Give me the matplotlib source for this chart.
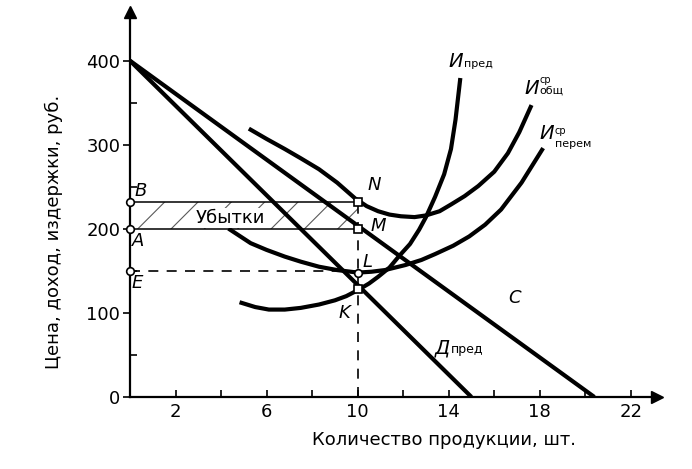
import numpy as np
import matplotlib.pyplot as plt

plt.rcParams['font.family'] = ['DejaVu Sans']
plt.rcParams['hatch.linewidth'] = 0.8

# price line C and marginal revenue line Д_пред
c_q = [0, 20.4]
c_p = [400, 0]
mr_q = [0, 15.0]
mr_p = [400, 0]

# cost curves
mc_q = [4.9, 5.5, 6.1, 6.8, 7.5, 8.3, 9.0, 9.5, 10.0, 10.5, 10.9, 11.4, 11.8, 12.3, 12.7, 13.0, 13.4, 13.8, 14.1, 14.3, 14.5]
mc_p = [112, 107, 104, 104, 106, 110, 115, 120, 127, 135, 143, 154, 167, 182, 199, 214, 238, 265, 295, 330, 377]
atc_q = [5.3, 6.0, 6.8, 7.5, 8.3, 9.1, 9.9, 10.4, 10.9, 11.4, 11.9, 12.5, 13.0, 13.6, 14.1, 14.7, 15.3, 16.0, 16.6, 17.1, 17.6]
atc_p = [318, 307, 295, 284, 271, 255, 236, 227, 221, 217, 215, 214, 216, 221, 229, 239, 251, 268, 290, 315, 345]
avc_q = [4.4, 5.3, 6.0, 6.8, 7.5, 8.3, 9.1, 10.0, 10.6, 11.2, 12.1, 12.8, 13.4, 14.2, 14.9, 15.6, 16.3, 17.2, 18.1]
avc_p = [199, 183, 175, 167, 161, 155, 151, 148, 149, 151, 157, 163, 170, 180, 191, 205, 223, 255, 294]

# equilibrium quantity and price levels
q_star = 10
p_b = 232
p_a = 200
p_e = 150
p_k = 128

fig = plt.figure(figsize=(6.92, 4.69), dpi=100)
ax = fig.add_axes([130/692, 1 - 397/469, 527/692, 385/469])
ax.set_xlim(0, 23.15)
ax.set_ylim(0, 458)

# losses rectangle
ax.fill_between([0, q_star], p_a, p_b, facecolor='none', edgecolor='0.35', hatch='/', linewidth=0)
ax.plot([0, q_star], [p_b, p_b], color='k', lw=1.1)
ax.plot([0, q_star], [p_a, p_a], color='k', lw=1.1)
ax.plot([0, q_star], [p_e, p_e], color='k', lw=1.2, dashes=(6, 5))
ax.plot([q_star, q_star], [0, p_b], color='k', lw=1.2, dashes=(6, 5))

lw = 3.0
ax.plot(c_q, c_p, color='k', lw=lw, solid_capstyle='butt')
ax.plot(mr_q, mr_p, color='k', lw=lw, solid_capstyle='butt')
ax.plot(mc_q, mc_p, color='k', lw=lw, solid_joinstyle='round')
ax.plot(atc_q, atc_p, color='k', lw=lw, solid_joinstyle='round')
ax.plot(avc_q, avc_p, color='k', lw=lw, solid_joinstyle='round')

# marked points
mk = dict(color='k', mfc='white', mec='k', mew=1.2, ms=5.5, clip_on=False, zorder=5)
ax.plot([0, 0, 0], [p_b, p_a, p_e], 'o', **mk)
ax.plot([q_star], [p_e - 2], 'o', **mk)
ax.plot([q_star, q_star, q_star], [p_b, p_a, p_k], 's', **mk)

it = dict(fontsize=13, style='italic', ha='center', va='center')
ax.text(0.45, 245, 'B', **it)
ax.text(0.35, 186, 'A', **it)
ax.text(0.3, 136, 'E', **it)
ax.text(10.75, 252, 'N', **it)
ax.text(10.9, 204, 'M', **it)
ax.text(10.45, 161, 'L', **it)
ax.text(9.4, 100, 'K', **it)
ax.text(16.9, 118, 'C', **it)
ax.text(4.4, 213, 'Убытки', fontsize=13, ha='center', va='center',
        bbox=dict(facecolor='white', edgecolor='none', pad=0.5))

# curve labels
ax.text(14.0, 392, 'И', fontsize=14, style='italic', va='baseline')
ax.text(14.65, 392, 'пред', fontsize=8, va='baseline')
ax.text(17.35, 361, 'И', fontsize=14, style='italic', va='baseline')
ax.text(18.0, 361, 'общ', fontsize=8, va='baseline')
ax.text(18.0, 374, 'ср', fontsize=7, va='baseline')
ax.text(18.0, 307, 'И', fontsize=14, style='italic', va='baseline')
ax.text(18.65, 297, 'перем', fontsize=8, va='baseline')
ax.text(18.65, 313, 'ср', fontsize=7, va='baseline')
ax.text(13.4, 52, 'Д', fontsize=14, style='italic', va='baseline')
ax.text(14.1, 52, 'пред', fontsize=9, va='baseline')

# axes
for s in ['top', 'right']:
    ax.spines[s].set_visible(False)
for s in ['left', 'bottom']:
    ax.spines[s].set_linewidth(1.6)
ax.plot(1, 0, '>k', ms=9, transform=ax.transAxes, clip_on=False)
ax.plot(0, 1, '^k', ms=9, transform=ax.transAxes, clip_on=False)

ax.set_xticks([2, 6, 10, 14, 18, 22])
ax.set_xticks([4, 8, 12, 16, 20], minor=True)
ax.set_yticks([0, 100, 200, 300, 400])
ax.set_yticks([50, 150, 250, 350], minor=True)
ax.tick_params(axis='x', which='both', direction='in', length=5, width=1.2, labelsize=13, pad=4)
ax.tick_params(axis='y', which='major', direction='out', length=5, width=1.2, labelsize=13, pad=2)
ax.tick_params(axis='y', which='minor', direction='in', length=5, width=1.2)

fig.text(444/692, 1 - 440/469, 'Количество продукции, шт.', fontsize=13, ha='center', va='center')
fig.text(54/692, 1 - 232/469, 'Цена, доход, издержки, руб.', fontsize=13, ha='center', va='center', rotation=90)

fig.savefig('out.png', dpi=100)
